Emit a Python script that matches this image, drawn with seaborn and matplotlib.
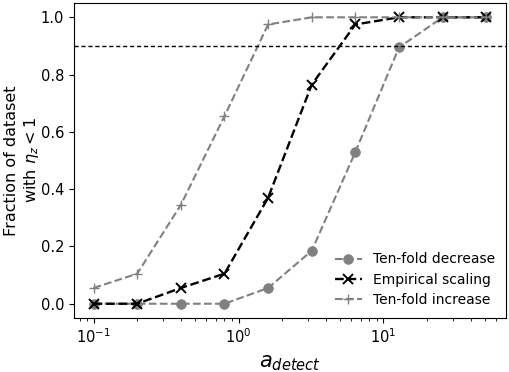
import numpy as np
import pandas as pd
import matplotlib
matplotlib.use("Agg")
import matplotlib.pyplot as plt
import seaborn as sns

a_detect = [0.1, 0.2, 0.4, 0.8, 1.6, 3.2, 6.4, 12.8, 25.6, 51.2]
tenfold_decrease = [0.0, 0.0, 0.0, 0.0, 0.055, 0.185, 0.53, 0.895, 1.0, 1.0]
empirical = [0.0, 0.0, 0.055, 0.105, 0.37, 0.765, 0.975, 1.0, 1.0, 1.0]
tenfold_increase = [0.055, 0.105, 0.345, 0.655, 0.975, 1.0, 1.0, 1.0, 1.0, 1.0]
threshold = 0.9

fig, ax = plt.subplots(figsize=(5.1, 3.72), dpi=100)
fig.subplots_adjust(left=0.145, right=0.992, bottom=0.145, top=0.992)

sns.lineplot(x=a_detect, y=tenfold_decrease, ax=ax, color="grey", linestyle="--",
             marker="o", markersize=7, markeredgecolor="grey", markeredgewidth=0.5,
             linewidth=1.5, label="Ten-fold decrease")
sns.lineplot(x=a_detect, y=empirical, ax=ax, color="black", linestyle="--",
             marker="x", markersize=6.5, markeredgecolor="black", markeredgewidth=1.4,
             linewidth=1.7, label="Empirical scaling")
sns.lineplot(x=a_detect, y=tenfold_increase, ax=ax, color="grey", linestyle="--",
             marker="+", markersize=7.5, markeredgecolor="grey", markeredgewidth=1.0,
             linewidth=1.5, label="Ten-fold increase")
ax.axhline(threshold, color="black", linestyle="--", linewidth=1, dashes=(3, 2))

ax.set_xscale("log")
ax.margins(x=0.05, y=0.05)
ax.set_xlabel("$a_{detect}$", fontsize=15, labelpad=5)
ax.set_ylabel("Fraction of dataset\nwith $\\eta_z < 1$", fontsize=11.5, labelpad=0)
ax.tick_params(labelsize=10.5)
ax.legend(loc="lower right", frameon=False, fontsize=10, handlelength=1.9,
          borderaxespad=0.4, labelspacing=0.45)

fig.savefig("out.png", dpi=100)
